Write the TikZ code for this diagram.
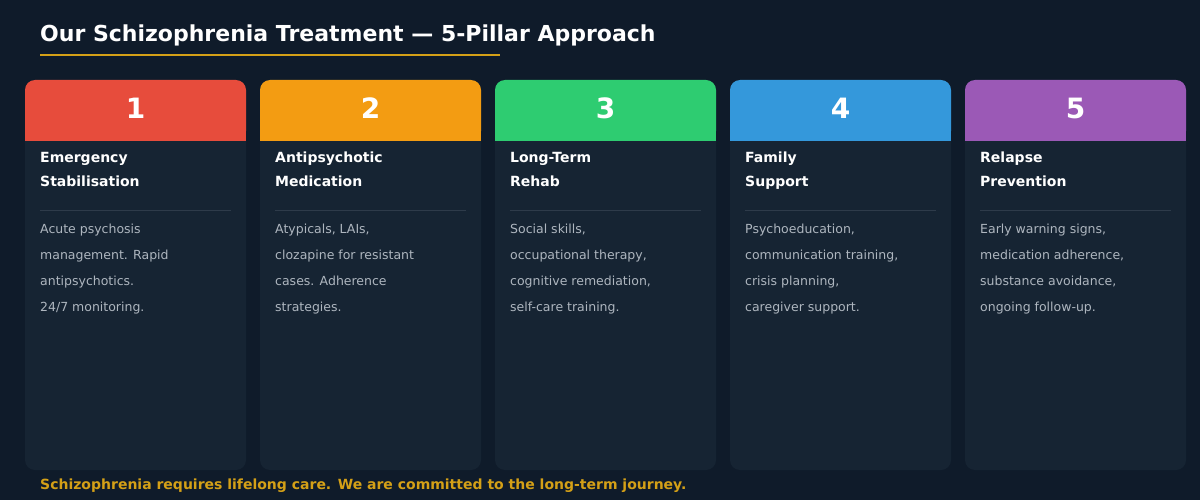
\documentclass[tikz,border=0pt]{standalone}
\usepackage{fontspec}
\setmainfont{DejaVu Sans}
\usetikzlibrary{positioning}
\definecolor{bgdark}{HTML}{0F1B2A}
\definecolor{cardbg}{HTML}{162433}
\definecolor{gold}{HTML}{D4A017}
\definecolor{bodygrey}{HTML}{AEB6BF}
\definecolor{rulegrey}{HTML}{2E3B4A}
\definecolor{pillarA}{HTML}{E74C3C}
\definecolor{pillarB}{HTML}{F39C12}
\definecolor{pillarC}{HTML}{2ECC71}
\definecolor{pillarD}{HTML}{3498DB}
\definecolor{pillarE}{HTML}{9B59B6}
\tikzset{
  headtext/.style={anchor=north west, inner sep=0pt, align=left, text=white,
    font=\fontsize{14}{24}\selectfont\bfseries},
  bodytext/.style={anchor=north west, inner sep=0pt, align=left, text=bodygrey,
    font=\fontsize{12.5}{26}\selectfont},
  numtext/.style={text=white, font=\fontsize{28}{30}\selectfont\bfseries}
}
\begin{document}
\begin{tikzpicture}[x=1pt,y=-1pt]
	%Background and title
	\fill[bgdark] (0,0) rectangle (1200,500);
	\useasboundingbox (0,0) rectangle (1200,500);
	\node[anchor=west, inner sep=0pt, text=white, font=\fontsize{22}{24}\selectfont\bfseries]
		(title) at (40,35) {Our Schizophrenia Treatment — 5-Pillar Approach};
	\draw[gold, line width=2.5pt] (40,55) -- (500,55);

	%Five cards: x offset, colour, number, heading, body
	\foreach \x/\c/\n/\head/\body in {
		25/pillarA/1/{Emergency\\Stabilisation}/{Acute psychosis\\management. Rapid\\antipsychotics.\\24/7 monitoring.},
		260/pillarB/2/{Antipsychotic\\Medication}/{Atypicals, LAIs,\\clozapine for resistant\\cases. Adherence\\strategies.},
		495/pillarC/3/{Long-Term\\Rehab}/{Social skills,\\occupational therapy,\\cognitive remediation,\\self-care training.},
		730/pillarD/4/{Family\\Support}/{Psychoeducation,\\communication training,\\crisis planning,\\caregiver support.},
		965/pillarE/5/{Relapse\\Prevention}/{Early warning signs,\\medication adherence,\\substance avoidance,\\ongoing follow-up.}}
	{
		\fill[cardbg, rounded corners=10pt] (\x,80) rectangle (\x+221,470);
		\fill[\c, rounded corners=10pt] (\x,80) rectangle (\x+221,141);
		\fill[\c] (\x,120) rectangle (\x+221,141);
		\node[numtext] (num\n) at (\x+110.5,108) {\n};
		\node[headtext] (head\n) at (\x+15,152) {\head};
		\draw[rulegrey, line width=0.8pt] (\x+15,210.5) -- (\x+206,210.5);
		\node[bodytext] (body\n) at (\x+15,224) {\body};
	}

	%Footer
	\node[anchor=west, inner sep=0pt, text=gold, font=\fontsize{14}{16}\selectfont\bfseries]
		(footer) at (40,486) {Schizophrenia requires lifelong care. We are committed to the long-term journey.};
\end{tikzpicture}
\end{document}
